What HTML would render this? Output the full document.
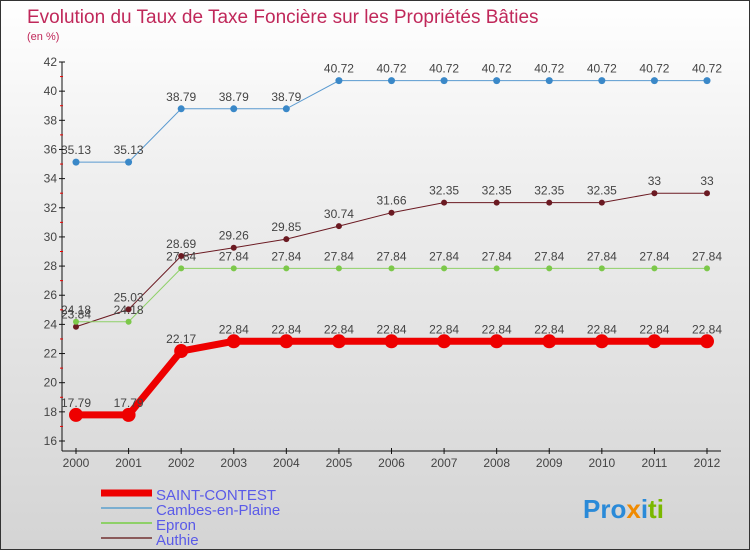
<!DOCTYPE html>
<html><head><meta charset="utf-8"><style>
body{margin:0;}
#c{width:750px;height:550px;position:relative;overflow:hidden;background:linear-gradient(#ffffff,#f0f0f0 30%,#d4d4d4);border:1px solid #333;box-sizing:border-box;font-family:"Liberation Sans",sans-serif;}
svg{position:absolute;left:0;top:0}
</style></head><body>
<div id="c">
<svg width="750" height="550" id="s">
<text x="26" y="22" font-size="19" fill="#c0285a">Evolution du Taux de Taxe Foncière sur les Propriétés Bâties</text>
<text x="26" y="39" font-size="11" fill="#c0285a">(en %)</text>
<g id="axes"></g><g id="series"></g><g id="legend"></g>
<text x="582" y="517" font-size="26" font-weight="bold" fill="#2a8ad8">Pro<tspan fill="#f08a00">x</tspan><tspan fill="#2a8ad8">i</tspan><tspan fill="#7ab800">ti</tspan></text>
</svg></div>
<script>
const years=[2000,2001,2002,2003,2004,2005,2006,2007,2008,2009,2010,2011,2012];
const yTicks=[16,18,20,22,24,26,28,30,32,34,36,38,40,42];
const saint=[17.79,17.79,22.17,22.84,22.84,22.84,22.84,22.84,22.84,22.84,22.84,22.84,22.84];
const cambes=[35.13,35.13,38.79,38.79,38.79,40.72,40.72,40.72,40.72,40.72,40.72,40.72,40.72];
const epron=[24.18,24.18,27.84,27.84,27.84,27.84,27.84,27.84,27.84,27.84,27.84,27.84,27.84];
const authie=[23.84,25.03,28.69,29.26,29.85,30.74,31.66,32.35,32.35,32.35,32.35,33,33];
const names=["SAINT-CONTEST","Cambes-en-Plaine","Epron","Authie"];
const NS="http://www.w3.org/2000/svg";
const X=i=>75+i*(706-75)/12, Y=v=>440-(v-16)*(440-61)/26;
function mk(t,a,p){const e=document.createElementNS(NS,t);for(const k in a)e.setAttribute(k,a[k]);p.appendChild(e);return e;}
const ax=document.getElementById('axes');
let l=mk('line',{x1:61,y1:61,x2:61,y2:450,stroke:'#111'},ax);


l=mk('line',{x1:61,y1:450,x2:720,y2:450,stroke:'#111'},ax);


yTicks.forEach((v,i)=>{mk('line',{x1:58,x2:64,y1:Y(v),y2:Y(v),stroke:'#111'},ax);
 if(i<yTicks.length-1)mk('line',{x1:59,x2:62,y1:Y(v+1),y2:Y(v+1),stroke:'#e00'},ax);
 const t=mk('text',{x:56,y:Y(v)+4,'font-size':12,'text-anchor':'end',fill:'#444'},ax);t.textContent=v;
 
 });
years.forEach((y,i)=>{mk('line',{x1:X(i),x2:X(i),y1:447,y2:453,stroke:'#111'},ax);
 const t=mk('text',{x:X(i),y:466,'font-size':12,'text-anchor':'middle',fill:'#444'},ax);t.textContent=y;
 
 });
const sg=document.getElementById('series');
const defs=[[authie,'#6b1a22','#6b1a22',1,3,'authie'],[epron,'#8ed068','#7cc84a',1,3,'epron'],[cambes,'#5a9ad0','#3a88c8',1,3.5,'cambes-en-plaine'],[saint,'#ee0000','#ee0000',7,7,'saint-contest']];
defs.forEach(([d,lc,pc,w,r,n])=>{
 const p=mk('polyline',{points:d.map((v,i)=>X(i)+','+Y(v)).join(' '),fill:'none',stroke:lc,'stroke-width':w},sg);
 
 
 d.forEach((v,i)=>{const c=mk('circle',{cx:X(i),cy:Y(v),r:r,fill:pc},sg);
  
  
  const t=mk('text',{x:X(i),y:Y(v)-8,'font-size':12,'text-anchor':'middle',fill:'#444'},sg);t.textContent=v;
  
  });
});
const lg=document.getElementById('legend');
const lcol=['#ee0000','#7aaed0','#8ed068','#8a5a5a'],lw=[7,2,2,2];
names.forEach((n,i)=>{const y=492+i*15;
 const s=mk('line',{x1:100,x2:151,y1:y,y2:y,stroke:lcol[i],'stroke-width':lw[i]},lg);
 
 
 const t=mk('text',{x:155,y:y+7,'font-size':15,fill:'#5a5ae8'},lg);t.textContent=n;
 
 });
</script>
</body></html>
